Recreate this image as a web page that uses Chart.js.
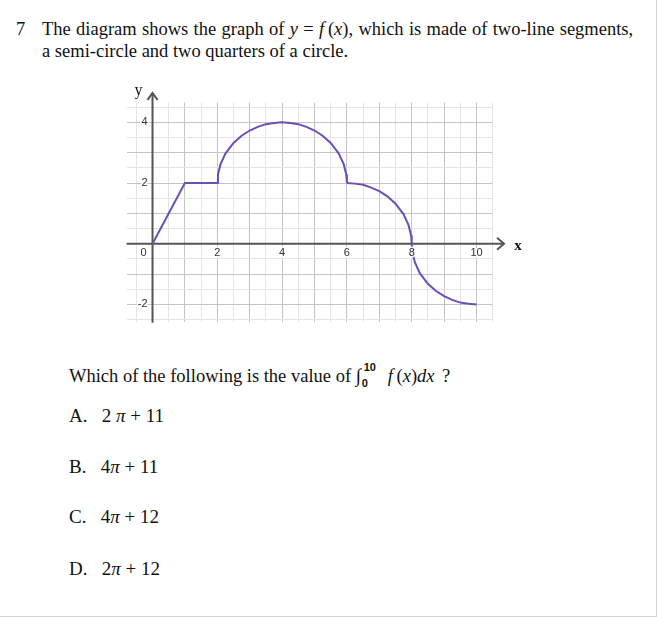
<!DOCTYPE html>
<html>
<head>
<meta charset="utf-8">
<script src="https://cdn.jsdelivr.net/npm/chart.js@4.4.1/dist/chart.umd.min.js"></script>
<style>
  html, body { margin: 0; padding: 0; background: #fff; }
  #page { position: relative; width: 656px; height: 616px; border-right: 1px solid #d4d4d4; border-bottom: 1px solid #d4d4d4; font-family: "Liberation Serif", serif; color: #111; }
  .t { position: absolute; white-space: nowrap; line-height: 20px; }
  .m { font-style: italic; }
  #wrap { position: absolute; left: 100px; top: 80px; width: 440px; height: 260px; }
  .lim { font-family: "Liberation Sans", sans-serif; font-weight: bold; font-size: 11px; position: absolute; line-height: 11px; }
</style>
</head>
<body>
<div id="page">
  <div class="t" style="left:16px; top:19px; font-size:18.5px;">7</div>
  <div class="t" style="left:42px; top:19px; font-size:18.5px; word-spacing:0.7px;">The diagram shows the graph of <span class="m">y</span>&nbsp;= <span class="m">f</span>&thinsp;(<span class="m">x</span>), which is made of two-line segments,</div>
  <div class="t" style="left:42px; top:41px; font-size:18.5px;">a semi-circle and two quarters of a circle.</div>

  <div id="wrap"><canvas id="grafico"></canvas></div>

  <div class="t" style="left:69px; top:366px; font-size:18.5px;">Which of the following is the value of <span style="position:relative; display:inline-block; width:32px;"><span class="m" style="font-size:19px;">&#8747;</span><span class="lim" style="left:8px; top:-4px;">10</span><span class="lim" style="left:6px; top:12px;">0</span></span><span class="m">f</span>&thinsp;(<span class="m">x</span>)<span class="m">dx</span>&thinsp;&thinsp;?</div>
  <div class="t" style="left:69px; top:406px; font-size:19px;">A.&nbsp;&nbsp; 2 <span class="m">π</span> + 11</div>
  <div class="t" style="left:69px; top:457px; font-size:19px;">B.&nbsp;&nbsp; 4<span class="m">π</span> + 11</div>
  <div class="t" style="left:69px; top:507px; font-size:19px;">C.&nbsp;&nbsp; 4<span class="m">π</span> + 12</div>
  <div class="t" style="left:69px; top:559px; font-size:19px;">D.&nbsp;&nbsp; 2<span class="m">π</span> + 12</div>
</div>

<script>
// tramos de la función
const segX = [0, 1, 2];
const segY = [0, 2, 2];

const semiX = [2, 2.02, 2.1, 2.25, 2.5, 2.75, 3, 3.25, 3.5, 3.75, 4, 4.25, 4.5, 4.75, 5, 5.25, 5.5, 5.75, 5.9, 5.98, 6];
const semiY = [2, 2.28, 2.62, 2.97, 3.32, 3.56, 3.73, 3.85, 3.94, 3.98, 4, 3.98, 3.94, 3.85, 3.73, 3.56, 3.32, 2.97, 2.62, 2.28, 2];

const cuartoAX = [6, 6.25, 6.5, 6.75, 7, 7.25, 7.5, 7.75, 7.9, 7.98, 8];
const cuartoAY = [2, 1.98, 1.94, 1.85, 1.73, 1.56, 1.32, 0.97, 0.62, 0.28, 0];

const cuartoBX = [8, 8.02, 8.1, 8.25, 8.5, 8.75, 9, 9.25, 9.5, 9.75, 10];
const cuartoBY = [0, -0.28, -0.62, -0.97, -1.32, -1.56, -1.73, -1.85, -1.94, -1.98, -2];

// cuadrícula y etiquetas
const gridX = [-0.5, 0, 0.5, 1, 1.5, 2, 2.5, 3, 3.5, 4, 4.5, 5, 5.5, 6, 6.5, 7, 7.5, 8, 8.5, 9, 9.5, 10, 10.5];
const gridY = [-2.5, -2, -1.5, -1, -0.5, 0, 0.5, 1, 1.5, 2, 2.5, 3, 3.5, 4, 4.5];
const etiquetasX = [2, 4, 6, 8, 10];
const etiquetasY = [4, 2, -2];

const COLOR_CURVA = '#6a4fb5';

function puntos(xs, ys) {
  return xs.map((x, i) => ({ x: x, y: ys[i] }));
}

function tramo(xs, ys) {
  return {
    data: puntos(xs, ys),
    borderColor: COLOR_CURVA,
    borderWidth: 2,
    pointRadius: 0,
    tension: 0,
    fill: false
  };
}

const colorGrid = ctx => (Number.isInteger(ctx.tick.value) ? '#c4c4c4' : '#e4e4e4');

// 游댢 ejes con flecha y números sobre el eje
const ejesPlugin = {
  id: 'ejes',
  beforeDatasetsDraw(chart) {
    const { ctx, scales: { x, y }, chartArea } = chart;
    const x0 = x.getPixelForValue(0);
    const y0 = y.getPixelForValue(0);
    ctx.save();
    ctx.strokeStyle = '#555';
    ctx.lineWidth = 2;
    ctx.beginPath();
    ctx.moveTo(chartArea.left, y0);
    ctx.lineTo(x.getPixelForValue(10.85), y0);
    ctx.moveTo(x0, chartArea.bottom + 1);
    ctx.lineTo(x0, y.getPixelForValue(4.97));
    ctx.stroke();
    ctx.restore();
  },
  afterDatasetsDraw(chart) {
    const { ctx, scales: { x, y } } = chart;
    const x0 = x.getPixelForValue(0);
    const y0 = y.getPixelForValue(0);
    const tipX = x.getPixelForValue(10.85);
    const tipY = y.getPixelForValue(4.97);
    ctx.save();
    ctx.strokeStyle = '#555';
    ctx.lineWidth = 2;
    ctx.beginPath();
    ctx.moveTo(tipX - 7, y0 - 6);
    ctx.lineTo(tipX, y0);
    ctx.lineTo(tipX - 7, y0 + 6);
    ctx.moveTo(x0 - 5, tipY + 7);
    ctx.lineTo(x0, tipY);
    ctx.lineTo(x0 + 5, tipY + 7);
    ctx.stroke();

    ctx.font = '11px "Liberation Sans", Arial, sans-serif';
    ctx.lineWidth = 3;
    ctx.strokeStyle = 'rgba(255,255,255,0.85)';
    ctx.fillStyle = '#333';
    ctx.textBaseline = 'middle';
    ctx.textAlign = 'center';
    etiquetasX.forEach(v => {
      const px = x.getPixelForValue(v);
      ctx.strokeText(String(v), px, y0 + 9);
      ctx.fillText(String(v), px, y0 + 9);
    });
    ctx.textAlign = 'right';
    etiquetasY.forEach(v => {
      const py = y.getPixelForValue(v);
      ctx.strokeText(String(v), x0 - 5, py);
      ctx.fillText(String(v), x0 - 5, py);
    });
    ctx.strokeText('0', x0 - 6, y0 + 9);
    ctx.fillText('0', x0 - 6, y0 + 9);

    ctx.fillStyle = '#111';
    ctx.font = '16px "Liberation Serif", serif';
    ctx.textAlign = 'center';
    ctx.fillText('y', x0 - 14, tipY - 2);
    ctx.font = 'bold 15px "Liberation Serif", serif';
    ctx.fillText('x', tipX + 14, y0 + 2);
    ctx.restore();
  }
};

function renderGrafico(ctx) {
  return new Chart(ctx, {
    type: 'line',
    data: {
      datasets: [
        tramo(segX, segY),
        tramo(semiX, semiY),
        tramo(cuartoAX, cuartoAY),
        tramo(cuartoBX, cuartoBY)
      ]
    },
    options: {
      responsive: true,
      maintainAspectRatio: false,
      animation: false,
      layout: { padding: { left: 26.6, right: 47.3, top: 22.6, bottom: 18.3 } },
      plugins: {
        legend: { display: false },
        tooltip: { enabled: false }
      },
      scales: {
        x: {
          type: 'linear',
          min: -0.8,
          max: 10.5,
          afterBuildTicks: s => { s.ticks = gridX.map(v => ({ value: v })); },
          ticks: { display: false },
          border: { display: false },
          grid: { color: colorGrid, drawTicks: false, lineWidth: 1 }
        },
        y: {
          type: 'linear',
          min: -2.57,
          max: 4.65,
          afterBuildTicks: s => { s.ticks = gridY.map(v => ({ value: v })); },
          ticks: { display: false },
          border: { display: false },
          grid: { color: colorGrid, drawTicks: false, lineWidth: 1 }
        }
      }
    },
    plugins: [ejesPlugin]
  });
}

renderGrafico(document.getElementById('grafico'));
</script>
</body>
</html>
